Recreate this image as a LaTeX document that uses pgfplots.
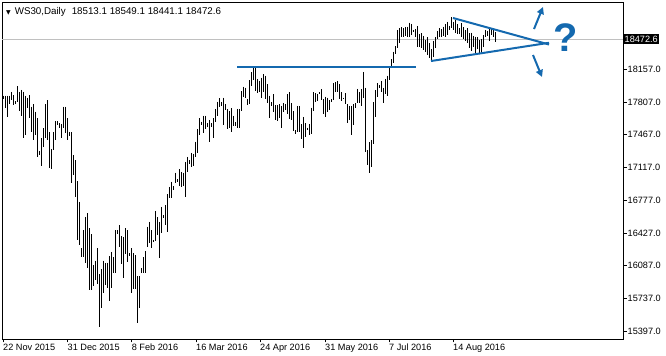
\documentclass[border=0pt]{standalone}
\usepackage{fontspec}
\setmainfont{Liberation Sans}
\newfontfamily\symfont{DejaVu Sans}
\usepackage{pgfplots}
\pgfplotsset{compat=1.18}
\usepackage{pgfplotstable}
\usetikzlibrary{arrows.meta,calc}
\definecolor{mtblue}{RGB}{20,105,175}
\definecolor{pgray}{RGB}{192,192,192}

\pgfplotstableread{
i h l
0 17876 17841
1 17876 17749
2 17876 17654
3 17876 17788
4 17915 17830
5 17883 17778
6 17820 17788
7 17978 17813
8 17915 17715
9 17936 17665
10 17918 17430
11 17876 17462
12 17855 17746
13 17883 17641
14 17760 17496
15 17788 17409
16 17707 17462
17 17641 17233
18 17293 17251
19 17430 17138
20 17535 17338
21 17788 17430
22 17830 17409
23 17493 17117
24 17314 17104
25 17496 17304
26 17609 17409
27 17609 17567
28 17588 17535
29 17578 17433
30 17760 17535
31 17760 17483
32 17641 17409
33 17496 17454
34 17493 16956
35 17251 17040
36 17198 16812
37 16977 16356
38 16759 16303
39 16271 16177
40 16461 16177
41 16601 16113
42 16640 16061
43 16482 15829
44 16419 15829
45 16092 15871
46 16138 15934
47 16271 15892
48 15998 15439
49 16050 15639
50 16138 15801
51 16113 15882
52 16117 15850
53 16187 15716
54 16232 15850
55 16177 16011
56 16461 16011
57 16461 16419
58 16514 16285
59 16398 16103
60 16390 15955
61 16482 16208
62 16461 16127
63 16222 16187
64 16271 15797
65 16219 15840
66 16198 15840
67 15976 15484
68 15976 15639
69 16061 16011
70 16177 16011
71 16243 16011
72 16496 16285
73 16548 16327
74 16461 16271
75 16356 16338
76 16664 16348
77 16598 16408
78 16548 16166
79 16706 16429
80 16619 16587
81 16724 16514
82 16840 16443
83 16917 16795
84 16970 16795
85 16925 16882
86 17065 16953
87 16998 16970
88 17100 16925
89 17075 16917
90 17065 16925
91 17180 16812
92 17233 17075
93 17198 17156
94 17275 17128
95 17262 17135
96 17391 17233
97 17525 17269
98 17638 17462
99 17602 17567
100 17665 17480
101 17665 17525
102 17585 17549
103 17620 17391
104 17585 17549
105 17638 17433
106 17736 17602
107 17813 17665
108 17848 17760
109 17806 17770
110 17855 17567
111 17785 17725
112 17736 17525
113 17715 17539
114 17743 17496
115 17665 17560
116 17596 17560
117 17736 17539
118 17736 17532
119 17925 17715
120 17971 17865
121 17960 17848
122 17841 17778
123 18041 17785
124 18122 17981
125 18181 18041
126 18171 17925
127 18052 17901
128 18031 17912
129 18065 17855
130 18101 17912
131 18086 17841
132 17996 17796
133 17876 17644
134 17806 17770
135 17890 17701
136 17778 17620
137 17778 17609
138 17785 17638
139 17770 17539
140 17796 17707
141 17785 17725
142 17890 17680
143 17912 17630
144 17796 17620
145 17715 17504
146 17514 17469
147 17770 17490
148 17770 17496
149 17574 17420
150 17654 17328
151 17585 17444
152 17539 17514
153 17574 17462
154 17749 17469
155 17912 17715
156 17901 17806
157 17890 17820
158 17912 17890
159 17946 17830
160 17841 17680
161 17865 17654
162 17855 17701
163 17830 17725
164 17841 17806
165 18006 17830
166 18017 17912
167 18031 17918
168 17996 17841
169 17912 17820
170 17855 17841
171 17901 17785
172 17785 17585
173 17770 17620
174 17770 17462
175 17785 17567
176 17796 17743
177 17949 17796
178 17912 17796
179 17946 17770
180 18128 17848
181 17960 17279
182 17304 17146
183 17385 17058
184 17409 17128
185 17806 17364
186 17936 17654
187 18006 17865
188 17988 17960
189 18031 17918
190 17960 17796
191 18052 17890
192 18086 17876
193 18181 18041
194 18259 18164
195 18339 18217
196 18399 18315
197 18568 18375
198 18586 18428
199 18596 18491
200 18586 18497
201 18596 18505
202 18603 18497
203 18645 18491
204 18631 18515
205 18568 18550
206 18575 18491
207 18610 18392
208 18526 18386
209 18533 18375
210 18505 18357
211 18462 18339
212 18491 18304
213 18428 18270
214 18365 18252
215 18455 18280
216 18491 18375
217 18560 18470
218 18586 18491
219 18575 18497
220 18603 18505
221 18631 18491
222 18655 18515
223 18610 18568
224 18702 18586
225 18655 18568
226 18673 18533
227 18631 18526
228 18586 18526
229 18638 18497
230 18596 18470
231 18568 18455
232 18586 18434
233 18533 18375
234 18539 18350
235 18505 18386
236 18497 18329
237 18491 18365
238 18462 18315
239 18470 18339
240 18515 18386
241 18568 18491
242 18560 18505
243 18575 18455
244 18575 18515
245 18568 18497
246 18549.1 18441.1
}\bars

\begin{document}
\begin{tikzpicture}
\begin{axis}[
  scale only axis, width=621bp, height=336bp,
  xmin=-0.5, xmax=310, ymin=15314, ymax=18852,
  axis line style={black, line width=1bp},
  tick style={black, line width=1bp},
  tick align=outside, major tick length=3.5bp,
  xtick pos=left, ytick pos=right, yticklabel pos=right,
  xtick={0,32.25,64.3,96.5,128.5,161,193,225},
  xticklabels={22 Nov 2015,31 Dec 2015,8 Feb 2016,16 Mar 2016,24 Apr 2016,31 May 2016,7 Jul 2016,14 Aug 2016},
  ytick={15397,15737,16087,16427,16777,17117,17467,17807,18157},
  yticklabels={15397.0,15737.0,16087.0,16427.0,16777.0,17117.0,17467.0,17807.0,18157.0},
  tick label style={font=\fontsize{9.2}{11}\selectfont},
  xticklabel style={anchor=north west, xshift=-1bp, inner sep=1bp},
  yticklabel style={anchor=west, inner sep=1bp},
  clip=false,
]
\coordinate (sw) at (rel axis cs:0,0);
\coordinate (ne) at (rel axis cs:1,1);
\addplot[pgray, line width=1bp, forget plot] coordinates {(-0.5,18472.6) (310,18472.6)};
\addplot[draw=none, mark=none, forget plot,
  error bars/.cd, y dir=minus, y explicit, error mark=none,
  error bar style={draw=black, line width=1bp}]
  table[x=i, y=h, y error expr=\thisrow{h}-\thisrow{l}] {\bars};
% annotations
\addplot[mtblue, line width=2bp, forget plot] coordinates {(117,18178) (206.5,18178)};
\addplot[mtblue, line width=2bp, forget plot] coordinates {(225,18694) (273,18415)};
\addplot[mtblue, line width=2bp, forget plot] coordinates {(214,18241) (273,18433)};
\draw[mtblue, line width=2bp, -{Triangle[length=7bp,width=7bp]}] (axis cs:265.5,18578) -- (axis cs:270,18810);
\draw[mtblue, line width=2bp, -{Triangle[length=7bp,width=7bp]}] (axis cs:265,18304) -- (axis cs:269.5,18073);
\node[mtblue, font=\fontsize{40}{40}\selectfont\bfseries, inner sep=0pt] at (axis cs:281.5,18489) {?};
\node[fill=black, text=white, anchor=west, inner xsep=1.5bp, inner ysep=1.5bp, font=\fontsize{9.2}{11}\selectfont] at (axis cs:310,18472.6) {18472.6};
\node[anchor=north west, inner sep=0pt, xshift=4bp, yshift=-4bp, font=\fontsize{9.8}{11}\selectfont] at (rel axis cs:0,1) {{\symfont\fontsize{6}{6}\selectfont ▼}\hspace{4bp}WS30,Daily\hspace{6bp}18513.1 18549.1 18441.1 18472.6};
\end{axis}
\pgfresetboundingbox
\path ($(sw)+(-2bp,-17bp)$) rectangle ($(ne)+(43bp,3bp)$);
\end{tikzpicture}
\end{document}
